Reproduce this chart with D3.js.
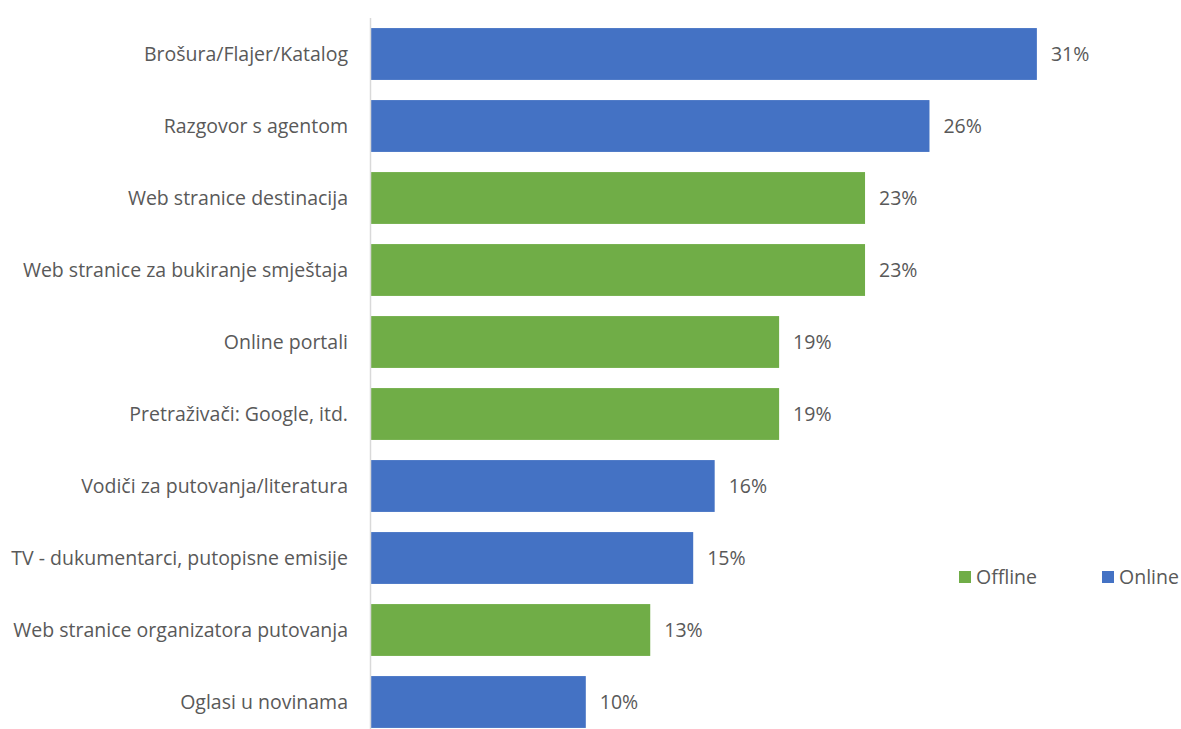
<!DOCTYPE html>
<html>
<head>
<meta charset="utf-8">
<script src="https://cdn.jsdelivr.net/npm/d3@7"></script>
<style>
  body { margin: 0; background: #fff; }
  text { font-family: "Open Sans", Lato, sans-serif; fill: #595959; }
</style>
</head>
<body>
<div id="chart"></div>
<script>
// data
const categories = [
  'Brošura/Flajer/Katalog',
  'Razgovor s agentom',
  'Web stranice destinacija',
  'Web stranice za bukiranje smještaja',
  'Online portali',
  'Pretraživači: Google, itd.',
  'Vodiči za putovanja/literatura',
  'TV - dukumentarci, putopisne emisije',
  'Web stranice organizatora putovanja',
  'Oglasi u novinama'
]
const values = [31, 26, 23, 23, 19, 19, 16, 15, 13, 10]
const groups = ['Online', 'Online', 'Offline', 'Offline', 'Offline', 'Offline', 'Online', 'Online', 'Offline', 'Online']
const legendKeys = ['Offline', 'Online']

document.addEventListener('DOMContentLoaded', function () {
  const width = 1181
  const height = 729
  const fontSize = '19.5px'

  const svg = d3.select('#chart')
    .append('svg')
    .attr('width', width)
    .attr('height', height)

  const rows = categories.map((c, i) => ({ name: c, value: values[i], group: groups[i] }))

  const x = d3.scaleLinear().domain([0, 35]).range([371, 371 + 35 * 21.48])
  const y = d3.scaleBand()
    .domain(categories)
    .range([18, 738])
    .paddingInner(0.28)
    .paddingOuter(0.14)
  const color = d3.scaleOrdinal().domain(legendKeys).range(['#70ad47', '#4472c4'])

  // bars
  svg.append('g')
    .selectAll('rect')
    .data(rows)
    .enter().append('rect')
    .attr('x', x(0))
    .attr('y', d => y(d.name))
    .attr('width', d => x(d.value) - x(0))
    .attr('height', y.bandwidth())
    .attr('fill', d => color(d.group))

  // axis line
  svg.append('line')
    .attr('x1', 370.5).attr('x2', 370.5)
    .attr('y1', 18).attr('y2', height)
    .attr('stroke', '#d9d9d9')
    .attr('stroke-width', 1.5)

  // category labels
  svg.append('g')
    .selectAll('text')
    .data(rows)
    .enter().append('text')
    .attr('x', 348)
    .attr('y', d => y(d.name) + y.bandwidth() / 2)
    .attr('dy', '0.35em')
    .attr('text-anchor', 'end')
    .style('font-size', fontSize)
    .text(d => d.name)

  // value labels
  svg.append('g')
    .selectAll('text')
    .data(rows)
    .enter().append('text')
    .attr('x', d => x(d.value) + 14)
    .attr('y', d => y(d.name) + y.bandwidth() / 2)
    .attr('dy', '0.35em')
    .style('font-size', fontSize)
    .text(d => d.value + '%')

  // legend
  const legend = svg.append('g')
    .selectAll('g')
    .data(legendKeys)
    .enter().append('g')
    .attr('transform', (d, i) => `translate(${959 + i * 143},577)`)
  legend.append('rect')
    .attr('x', 0).attr('y', -6)
    .attr('width', 12).attr('height', 12)
    .attr('fill', d => color(d))
  legend.append('text')
    .attr('x', 17)
    .attr('dy', '0.35em')
    .style('font-size', fontSize)
    .text(d => d)
})
</script>
</body>
</html>
